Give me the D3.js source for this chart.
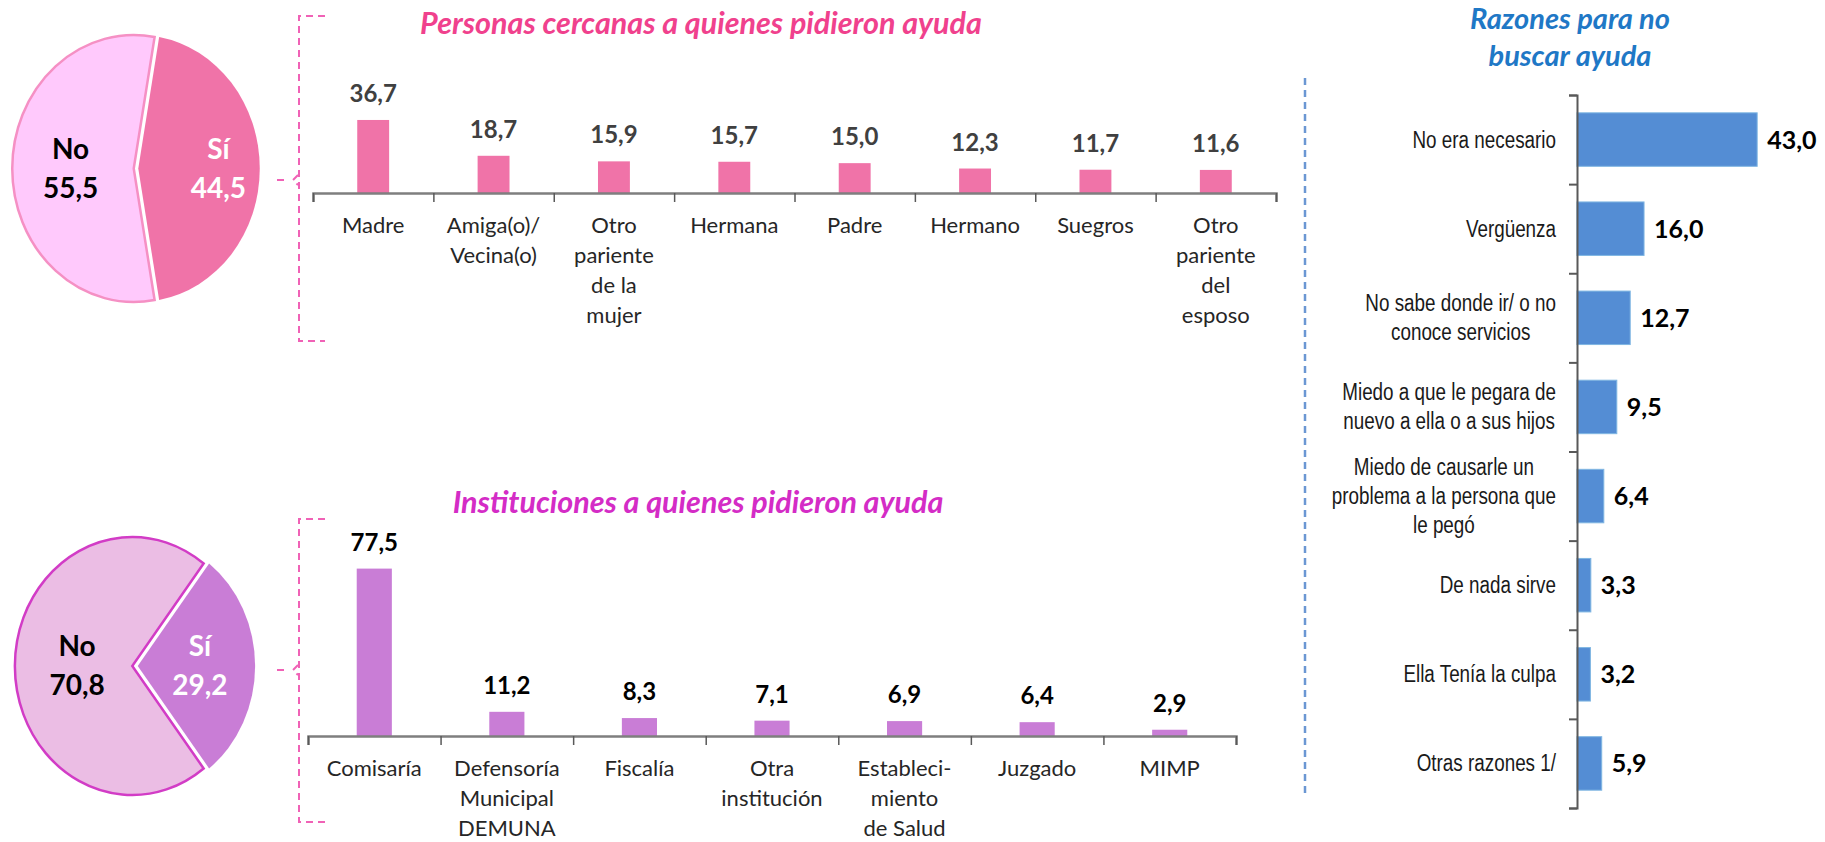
<!DOCTYPE html>
<html>
<head>
<meta charset="utf-8">
<script src="https://cdn.jsdelivr.net/npm/d3@7"></script>
<style>
  body { margin: 0; background: #fff; }
  svg { display: block; font-family: Lato, "Open Sans", sans-serif; }
</style>
</head>
<body>
<svg width="1825" height="842"></svg>
<script>
// --- data ---
var pieKeys = ["Sí", "No"];
var pieCercanas = [44.5, 55.5];
var pieInstituciones = [29.2, 70.8];

var cercanasCats = ["Madre", "Amiga(o)/\nVecina(o)", "Otro\npariente\nde la\nmujer", "Hermana",
                    "Padre", "Hermano", "Suegros", "Otro\npariente\ndel\nesposo"];
var cercanasVals = [36.7, 18.7, 15.9, 15.7, 15.0, 12.3, 11.7, 11.6];

var instCats = ["Comisaría", "Defensoría\nMunicipal\nDEMUNA", "Fiscalía", "Otra\ninstitución",
                "Estableci-\nmiento\nde Salud", "Juzgado", "MIMP"];
var instVals = [77.5, 11.2, 8.3, 7.1, 6.9, 6.4, 2.9];

var razonesCats = ["No era necesario", "Vergüenza", "No sabe donde ir/ o no\nconoce servicios",
                   "Miedo a que le pegara de\nnuevo a ella o a sus hijos",
                   "Miedo de causarle un\nproblema a la persona que\nle pegó",
                   "De nada sirve", "Ella Tenía la culpa", "Otras razones 1/"];
var razonesVals = [43.0, 16.0, 12.7, 9.5, 6.4, 3.3, 3.2, 5.9];

var svg = d3.select("svg");
var fmt = function(v) { return d3.format(".1f")(v).replace(".", ","); };

// --- pies ---
function drawPie(vals, o) {
    var f = vals[0] / d3.sum(vals);
    var a0 = Math.PI / 2 - f * Math.PI;
    var pie = d3.pie().sort(null).startAngle(a0).endAngle(a0 + 2 * Math.PI);
    var arc = d3.arc().innerRadius(0).outerRadius(o.r);
    var arcs = pie(vals);

    var g = svg.append("g")
        .attr("transform", "translate(" + o.cx + "," + o.cy + ") scale(" + o.sx + ",1)");

    arcs.forEach(function(d, i) {
        var c = arc.centroid(d), len = Math.hypot(c[0], c[1]);
        d.dx = c[0] / len * o.explode;
        d.dy = c[1] / len * o.explode;
    });

    g.selectAll("path")
        .data(arcs)
        .enter()
            .append("path")
            .attr("d", arc)
            .attr("transform", function(d) { return "translate(" + d.dx + "," + d.dy + ")"; })
            .attr("fill", function(d, i) { return o.fill[i]; })
            .attr("stroke", function(d, i) { return o.stroke[i]; })
            .attr("stroke-width", 2.5)
            .attr("vector-effect", "non-scaling-stroke");

    arcs.forEach(function(d, i) {
        var lr = o.r * o.lab[i];
        var c = d3.arc().innerRadius(lr).outerRadius(lr).centroid(d);
        var x = o.cx + (c[0] + d.dx) * o.sx, y = o.cy + c[1] + d.dy;
        var t = svg.append("text")
            .attr("text-anchor", "middle")
            .attr("font-weight", "bold")
            .attr("font-size", 28)
            .attr("fill", o.text[i]);
        t.append("tspan").attr("x", x).attr("y", y - 10).text(pieKeys[i]);
        t.append("tspan").attr("x", x).attr("y", y + 29).text(fmt(vals[i]));
    });
}

drawPie(pieCercanas, {
    cx: 136, cy: 168.5, r: 133.5, sx: 0.91, explode: 2.5, lab: [0.66, 0.52],
    fill: ["#f073a8", "#ffc9fc"], stroke: ["none", "#f590c4"], text: ["#fff", "#000"]
});
drawPie(pieInstituciones, {
    cx: 135, cy: 666, r: 129, sx: 0.91, explode: 3, lab: [0.53, 0.47],
    fill: ["#c97dd6", "#ebbde4"], stroke: ["none", "#d23cc6"], text: ["#fff", "#000"]
});

// --- brackets ---
function bracket(x, y0, y1, ym) {
    var g = svg.append("g")
        .attr("fill", "none")
        .attr("stroke", "#f062b6")
        .attr("stroke-width", 2)
        .attr("stroke-dasharray", "7,5");
    g.append("path").attr("d", "M" + (x + 26) + "," + y0 + "H" + x + "V" + y1 + "H" + (x + 26));
    g.append("path").attr("d", "M" + (x - 22) + "," + ym + "H" + (x - 10)).attr("stroke-dasharray", null);
    g.append("path").attr("d", "M" + (x - 1) + "," + (ym - 5) + "L" + (x - 6) + "," + ym + "L" + (x - 1) + "," + (ym + 5))
        .attr("stroke-dasharray", null);
}
bracket(299, 16, 341, 180);
bracket(299, 519, 822, 670);

// --- column charts ---
function drawColumns(cats, vals, o) {
    var x = d3.scaleBand().domain(cats).range([o.x0, o.x1]).paddingInner(0.735).paddingOuter(0.3675);
    var y = d3.scaleLinear().domain([0, o.max]).range([o.y0, o.y0 - o.max * o.k]);
    var edges = d3.scaleLinear().domain([0, cats.length]).range([o.x0, o.x1]);

    svg.append("text")
        .attr("x", o.titleX)
        .attr("y", o.titleY)
        .attr("text-anchor", "middle")
        .attr("font-weight", "bold")
        .attr("font-style", "italic")
        .attr("font-size", 30.5)
        .attr("fill", o.titleColor)
        .text(o.title);

    svg.append("g")
        .selectAll("rect")
        .data(vals)
        .enter()
            .append("rect")
            .attr("x", function(d, i) { return x(cats[i]); })
            .attr("y", function(d) { return y(d); })
            .attr("width", x.bandwidth())
            .attr("height", function(d) { return y(0) - y(d); })
            .attr("fill", o.color);

    var ax = svg.append("g")
        .attr("transform", "translate(0," + o.y0 + ")")
        .call(d3.axisBottom(edges).ticks(cats.length).tickFormat("").tickSize(9).tickSizeOuter(9));
    ax.select(".domain").attr("stroke", "#7f7f7f").attr("stroke-width", 2.5);
    ax.selectAll(".tick line").attr("stroke", "#595959").attr("stroke-width", 1.5);

    svg.append("g")
        .selectAll("text")
        .data(vals)
        .enter()
            .append("text")
            .attr("x", function(d, i) { return x(cats[i]) + x.bandwidth() / 2; })
            .attr("y", function(d) { return y(d) - 18; })
            .attr("text-anchor", "middle")
            .attr("font-weight", "bold")
            .attr("font-size", 24)
            .attr("fill", o.valColor)
            .text(fmt);

    var labs = svg.append("g")
        .selectAll("text")
        .data(cats)
        .enter()
            .append("text")
            .attr("text-anchor", "middle")
            .attr("font-size", 22)
            .attr("fill", "#262626");
    labs.each(function(d) {
        var t = d3.select(this), cx = x(d) + x.bandwidth() / 2;
        d.split("\n").forEach(function(line, j) {
            t.append("tspan").attr("x", cx).attr("y", o.y0 + 40 + j * 30).text(line);
        });
    });
}

drawColumns(cercanasCats, cercanasVals, {
    x0: 313, x1: 1276, y0: 193, max: 40, k: 1.99, color: "#f073a8", valColor: "#404040",
    title: "Personas cercanas a quienes pidieron ayuda", titleX: 701, titleY: 34, titleColor: "#f0418d"
});
drawColumns(instCats, instVals, {
    x0: 308, x1: 1236, y0: 736, max: 80, k: 2.16, color: "#c97dd6", valColor: "#000",
    title: "Instituciones a quienes pidieron ayuda", titleX: 698, titleY: 513, titleColor: "#d42cc6"
});

// --- horizontal bars (razones) ---
svg.append("path")
    .attr("d", "M1305,78V798")
    .attr("stroke", "#6b97d3")
    .attr("stroke-width", 2.5)
    .attr("stroke-dasharray", "7,5");

var rt = svg.append("text")
    .attr("text-anchor", "middle")
    .attr("font-weight", "bold")
    .attr("font-style", "italic")
    .attr("font-size", 29)
    .attr("fill", "#1f78c6");
rt.append("tspan").attr("x", 1570).attr("y", 29).text("Razones para no");
rt.append("tspan").attr("x", 1570).attr("y", 66).text("buscar ayuda");

var yR = d3.scaleBand().domain(razonesCats).range([95, 808]).paddingInner(0.4).paddingOuter(0.2);
var xR = d3.scaleLinear().domain([0, 50]).range([1577, 1577 + 50 * 4.19]);
var yEdges = d3.scaleLinear().domain([0, razonesCats.length]).range([95, 808]);

svg.append("g")
    .selectAll("rect")
    .data(razonesVals)
    .enter()
        .append("rect")
        .attr("x", xR(0))
        .attr("y", function(d, i) { return yR(razonesCats[i]); })
        .attr("width", function(d) { return xR(d) - xR(0); })
        .attr("height", yR.bandwidth())
        .attr("fill", "#548dd4")
        .attr("stroke", "#7fb6e2")
        .attr("stroke-width", 1);

var axR = svg.append("g")
    .attr("transform", "translate(1577,0)")
    .call(d3.axisLeft(yEdges).ticks(8).tickFormat("").tickSize(8).tickSizeOuter(8));
axR.select(".domain").attr("stroke", "#595959").attr("stroke-width", 2);
axR.selectAll(".tick line").attr("stroke", "#595959").attr("stroke-width", 2);

svg.append("g")
    .selectAll("text")
    .data(razonesVals)
    .enter()
        .append("text")
        .attr("x", function(d) { return xR(d) + 10; })
        .attr("y", function(d, i) { return yR(razonesCats[i]) + yR.bandwidth() / 2 + 9; })
        .attr("font-weight", "bold")
        .attr("font-size", 25)
        .attr("fill", "#000")
        .text(fmt);

// narrow sans labels: Liberation Sans squeezed horizontally
var labR = svg.append("g")
    .attr("transform", "translate(1556,0) scale(0.82,1)")
    .attr("font-family", "'Liberation Sans', Arial, sans-serif")
    .attr("font-size", 23)
    .attr("fill", "#1a1a1a");

labR.selectAll("text")
    .data(razonesCats)
    .enter()
        .append("text")
        .attr("text-anchor", "middle")
        .each(function(d) {
            var t = d3.select(this), lines = d.split("\n");
            var cy = yR(d) + yR.bandwidth() / 2;
            var spans = lines.map(function(line, j) {
                return t.append("tspan")
                    .attr("y", cy + 8 + (j - (lines.length - 1) / 2) * 29)
                    .text(line);
            });
            var w = d3.max(spans, function(s) { return s.node().getComputedTextLength(); });
            spans.forEach(function(s) { s.attr("x", -w / 2); });
        });
</script>
</body>
</html>
